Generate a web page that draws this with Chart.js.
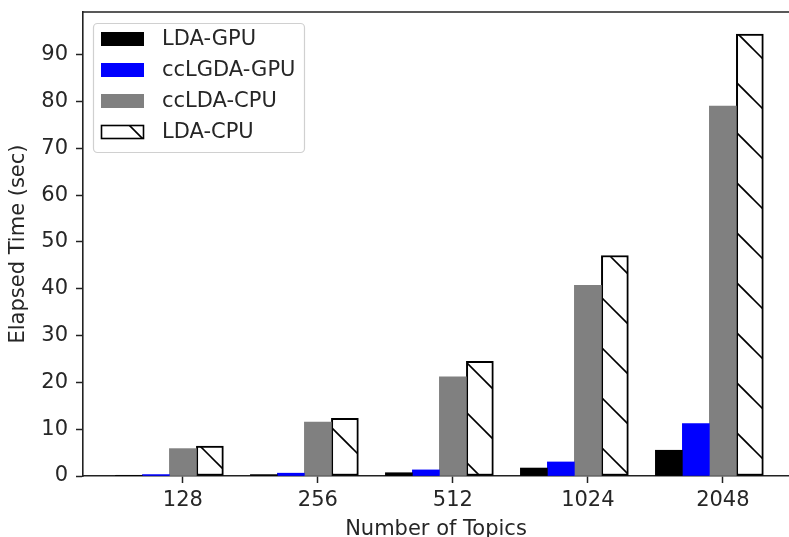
<!DOCTYPE html>
<html>
<head>
<meta charset="utf-8">
<script src="https://cdn.jsdelivr.net/npm/chart.js@4"></script>
<style>
  html, body { margin: 0; padding: 0; background: #fff; }
  #wrap { width: 789px; height: 537px; }
</style>
</head>
<body>
<div id="wrap"><canvas id="chart"></canvas></div>
<script>
// Data
const topics = ['128', '256', '512', '1024', '2048'];
const ldaGpu = [0.15, 0.3, 0.7, 1.7, 5.5];
const ccLgdaGpu = [0.3, 0.6, 1.3, 3.0, 11.2];
const ccLdaCpu = [5.85, 11.5, 21.2, 40.7, 79.0];
const ldaCpu = [6.4, 12.3, 24.5, 47.1, 94.4];
const yTicks = [0, 10, 20, 30, 40, 50, 60, 70, 80, 90];

Chart.defaults.font.family = 'DejaVu Sans';
Chart.defaults.font.size = 21;
Chart.defaults.color = '#262626';

// '\\' hatch like matplotlib
function hatchPattern() {
  const c = document.createElement('canvas');
  c.width = 50; c.height = 50;
  const g = c.getContext('2d');
  g.fillStyle = '#fff';
  g.fillRect(0, 0, 50, 50);
  g.strokeStyle = '#000';
  g.lineWidth = 1.6;
  const off = 46;
  for (let k = -2; k <= 1; k++) {
    g.beginPath();
    g.moveTo(-10, off + 50 * k - 10);
    g.lineTo(60, off + 50 * k + 60);
    g.stroke();
  }
  return document.getElementById('chart').getContext('2d').createPattern(c, 'repeat');
}
const hatch = hatchPattern();

// bars sit left of the tick: offsets in category units
const barOffsets = [-0.4, -0.2, 0, 0.2];
const series = [
  { label: 'LDA-GPU', values: ldaGpu, bg: '#000000', border: '#000000', bw: 0 },
  { label: 'ccLGDA-GPU', values: ccLgdaGpu, bg: '#0000ff', border: '#0000ff', bw: 0 },
  { label: 'ccLDA-CPU', values: ccLdaCpu, bg: '#808080', border: '#808080', bw: 0 },
  { label: 'LDA-CPU', values: ldaCpu, bg: hatch, border: '#000000', bw: 2 }
];

const datasets = series.map((s, k) => ({
  label: s.label,
  data: s.values.map((v, i) => ({ x: i + barOffsets[k], y: v })),
  backgroundColor: s.bg,
  borderColor: s.border,
  borderWidth: s.bw,
  borderSkipped: false,
  grouped: false,
  barPercentage: 1,
  categoryPercentage: 1
}));

// legend drawn inside the axes, plus the top spine
const framePlugin = {
  id: 'frame',
  afterDraw(chart) {
    const { ctx, chartArea } = chart;
    ctx.save();
    ctx.strokeStyle = '#222';
    ctx.lineWidth = 1.6;
    ctx.beginPath();
    ctx.moveTo(chartArea.left, chartArea.top);
    ctx.lineTo(chartArea.right, chartArea.top);
    ctx.stroke();

    // legend box
    ctx.fillStyle = 'rgba(255,255,255,0.8)';
    ctx.strokeStyle = '#d0d0d0';
    ctx.lineWidth = 1.2;
    ctx.beginPath();
    ctx.roundRect(93.5, 23.5, 211, 129, 4);
    ctx.fill();
    ctx.stroke();

    ctx.font = '21px "DejaVu Sans"';
    ctx.textBaseline = 'middle';
    ctx.textAlign = 'left';
    chart.data.datasets.forEach((ds, i) => {
      const cy = 39 + i * 31;
      ctx.fillStyle = ds.backgroundColor;
      ctx.fillRect(101, cy - 7, 43, 14);
      if (ds.borderWidth) {
        ctx.strokeStyle = ds.borderColor;
        ctx.lineWidth = 1.6;
        ctx.strokeRect(101.5, cy - 6.5, 42, 13);
      }
      ctx.fillStyle = '#262626';
      ctx.fillText(ds.label, 162, cy + 1);
    });
    ctx.restore();
  }
};

new Chart(document.getElementById('chart'), {
  type: 'bar',
  data: { datasets: datasets },
  options: {
    responsive: true,
    maintainAspectRatio: false,
    animation: false,
    layout: { padding: { top: 12, left: 0, right: 0, bottom: 0 } },
    plugins: {
      legend: { display: false },
      tooltip: { enabled: false }
    },
    scales: {
      x: {
        type: 'linear',
        offset: false,
        min: -0.74,
        max: 4.49,
        afterBuildTicks(scale) { scale.ticks = topics.map((t, i) => ({ value: i })); },
        afterFit(scale) { scale.height = 61; scale.paddingLeft = 0; scale.paddingRight = 0; },
        ticks: {
          padding: 5,
          autoSkip: false,
          maxRotation: 0,
          callback: (v) => topics[v]
        },
        grid: { offset: false, drawOnChartArea: false, tickLength: 7, tickColor: '#222', tickWidth: 1.5 },
        border: { display: true, color: '#222', width: 1.6 },
        title: {
          display: true,
          text: 'Number of Topics',
          font: { size: 21, lineHeight: 1 },
          padding: { top: 0, bottom: -3 }
        }
      },
      y: {
        min: 0,
        max: 99.1,
        afterBuildTicks(scale) { scale.ticks = yTicks.map(v => ({ value: v })); },
        afterFit(scale) { scale.width = 83; scale.paddingTop = 0; scale.paddingBottom = 0; },
        ticks: { padding: 8 },
        grid: { drawOnChartArea: false, tickLength: 7, tickColor: '#222', tickWidth: 1.5 },
        border: { display: true, color: '#222', width: 1.6 },
        title: {
          display: true,
          text: 'Elapsed Time (sec)',
          font: { size: 21, lineHeight: 1 },
          padding: { top: 8, bottom: 0 }
        }
      }
    }
  },
  plugins: [framePlugin]
});
</script>
</body>
</html>
